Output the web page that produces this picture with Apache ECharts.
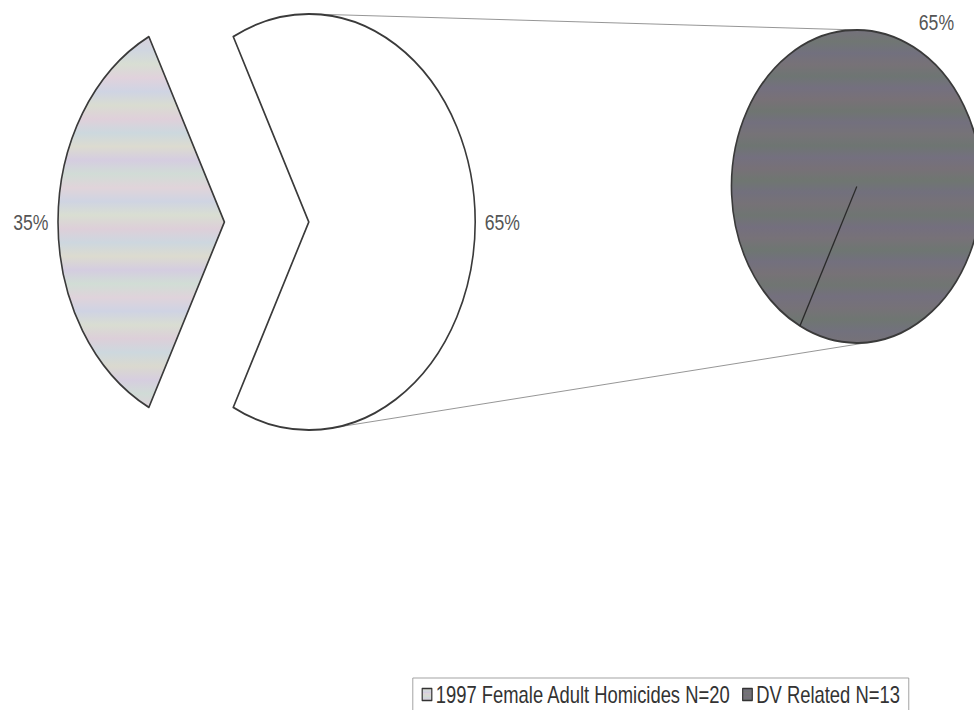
<!DOCTYPE html>
<html>
<head>
<meta charset="utf-8">
<script src="https://cdn.jsdelivr.net/npm/echarts@6/dist/echarts.min.js"></script>
<style>
html, body { margin: 0; padding: 0; overflow: hidden; background: #ffffff; width: 974px; height: 710px; }
#chart { width: 1218px; height: 710px; transform: scaleX(0.8); transform-origin: 0 0; }
</style>
</head>
<body>
<div id="chart"></div>
<script>
// ---- data ----
const homicideCategories = ['1997 Female Adult Homicides N=20', 'Other'];
const homicideValues = [7, 13];
const dvCategories = ['DV Related N=13'];
const dvValues = [13];
const legendLabels = ['1997 Female Adult Homicides N=20', 'DV Related N=13'];

// ---- layout / style (unscaled coordinates; page is squeezed horizontally by 0.8) ----
const FONT = '"Liberation Sans", Arial, sans-serif';
const mainCenter = [386, 222];
const mainRadius = 208;
const explodeOffset = 105.5;
const subCenter = [1071, 186.5];
const subRadius = 156.5;
const startAngle = 243;

const lightBands = ['#d8d0dc','#d0d6e0','#d8ded3','#e0d2dc','#cfd4e3','#d9dcd1','#dfd0da','#ccd8de',
  '#dcdbd0','#d5cde0','#d1dcd6','#e0d4da','#cfd4e2','#d9ded2','#ddcfd9','#cdd7df','#dcdbcf','#d4cde0',
  '#d1ddd5','#dfd3db','#cfd3e3','#d9ddd2','#dccfd9','#cdd8de','#dad9cf','#d6cedf','#d0dbd6','#ded2da'];
const darkBands = ['#75717c','#707673','#72707e','#777277','#6e7573','#74707f','#787177','#6f7571',
  '#73707e','#767377','#6e7572','#74707f','#777177','#6f7671','#72707d','#767277','#6f7572','#746f7e',
  '#777278','#6e7672','#73707e','#777277','#707572','#74707e','#767278','#6f7672','#72717d','#767277'];

function bandGradient(colors) {
  return new echarts.graphic.LinearGradient(0, 0, 0, 1,
    colors.map((c, i) => ({ offset: i / (colors.length - 1), color: c })));
}

const total = homicideValues.reduce((a, b) => a + b, 0);
const pct = v => Math.round(v / total * 100) + '%';

function tangents(c1, r1, c2, r2) {
  const dx = c2[0] - c1[0], dy = c2[1] - c1[1];
  const d = Math.hypot(dx, dy);
  const base = Math.atan2(dy, dx);
  const a = Math.acos((r1 - r2) / d);
  return [base - a, base + a].map(t => {
    const nx = Math.cos(t), ny = Math.sin(t);
    return [[c1[0] + r1 * nx, c1[1] + r1 * ny], [c2[0] + r2 * nx, c2[1] + r2 * ny]];
  });
}

const tl = tangents(mainCenter, mainRadius, subCenter, subRadius);
const rad = startAngle * Math.PI / 180;
const radialEnd = [subCenter[0] + subRadius * Math.cos(rad), subCenter[1] - subRadius * Math.sin(rad)];

const chart = echarts.init(document.getElementById('chart'), null, { renderer: 'svg' });

const labelStyle = { show: true, position: 'outside', fontSize: 22, color: '#555555', fontFamily: FONT,
  formatter: p => pct(p.value) };

chart.setOption({
  animation: false,
  backgroundColor: '#ffffff',
  legend: {
    data: legendLabels,
    left: 516, top: 678,
    orient: 'horizontal',
    padding: [5, 11, 6, 11],
    itemGap: 14, itemWidth: 12, itemHeight: 12,
    icon: 'rect',
    borderColor: '#999999', borderWidth: 1, borderRadius: 0,
    backgroundColor: '#ffffff',
    selectedMode: false,
    itemStyle: { borderColor: '#333333', borderWidth: 1.5 },
    textStyle: { fontSize: 23, color: '#333333', fontFamily: FONT }
  },
  graphic: [
    { type: 'line', z: 0, shape: { x1: tl[0][0][0], y1: tl[0][0][1], x2: tl[0][1][0], y2: tl[0][1][1] },
      style: { stroke: '#8a8a8a', lineWidth: 1 } },
    { type: 'line', z: 0, shape: { x1: tl[1][0][0], y1: tl[1][0][1], x2: tl[1][1][0], y2: tl[1][1][1] },
      style: { stroke: '#8a8a8a', lineWidth: 1 } },
    { type: 'line', z: 100, shape: { x1: subCenter[0], y1: subCenter[1], x2: radialEnd[0], y2: radialEnd[1] },
      style: { stroke: '#2a2a2a', lineWidth: 1.6 } }
  ],
  series: [
    {
      type: 'pie',
      center: mainCenter,
      radius: mainRadius,
      startAngle: startAngle,
      clockwise: true,
      selectedMode: 'single',
      selectedOffset: explodeOffset,
      avoidLabelOverlap: false,
      silent: true,
      emphasis: { disabled: true },
      itemStyle: { borderColor: '#3a3a3a', borderWidth: 2 },
      label: labelStyle,
      labelLine: { show: false, length: 7, length2: 0 },
      data: homicideCategories.map((n, i) => ({
        name: n, value: homicideValues[i], selected: i === 0,
        itemStyle: { color: i === 0 ? bandGradient(lightBands) : '#ffffff' }
      }))
    },
    {
      type: 'pie',
      center: subCenter,
      radius: subRadius,
      startAngle: startAngle,
      clockwise: true,
      avoidLabelOverlap: false,
      silent: true,
      emphasis: { disabled: true },
      itemStyle: { borderColor: '#3a3a3a', borderWidth: 2 },
      label: Object.assign({}, labelStyle, { distanceToLabelLine: -6 }),
      labelLine: { show: false, length: 27.5, length2: 0 },
      data: dvCategories.map((n, i) => ({
        name: n, value: dvValues[i],
        itemStyle: { color: bandGradient(darkBands) }
      }))
    }
  ]
});
</script>
</body>
</html>
